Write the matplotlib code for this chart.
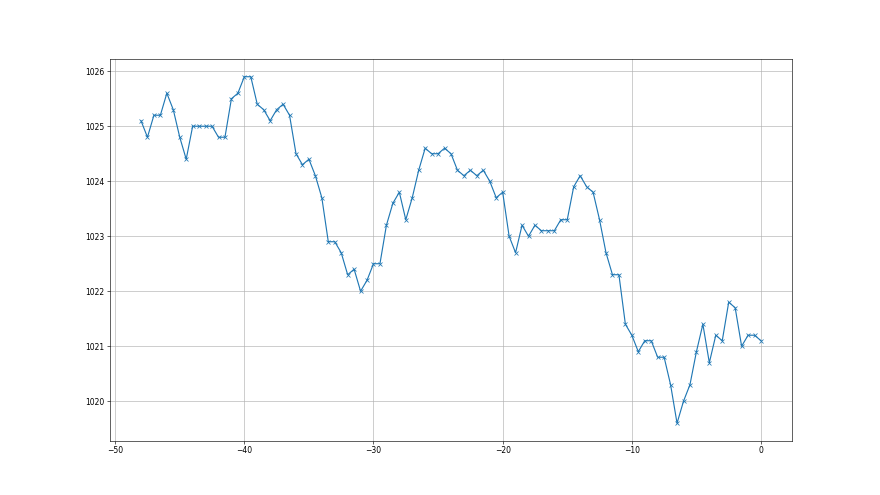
import numpy as np
import matplotlib
matplotlib.use("Agg")
import matplotlib.pyplot as plt

hours = np.arange(-48, 0.01, 0.5)
pressure = [
    1025.1, 1024.8, 1025.2, 1025.2, 1025.6, 1025.3, 1024.8, 1024.4, 1025.0, 1025.0,
    1025.0, 1025.0, 1024.8, 1024.8, 1025.5, 1025.6, 1025.9, 1025.9, 1025.4, 1025.3,
    1025.1, 1025.3, 1025.4, 1025.2, 1024.5, 1024.3, 1024.4, 1024.1, 1023.7, 1022.9,
    1022.9, 1022.7, 1022.3, 1022.4, 1022.0, 1022.2, 1022.5, 1022.5, 1023.2, 1023.6,
    1023.8, 1023.3, 1023.7, 1024.2, 1024.6, 1024.5, 1024.5, 1024.6, 1024.5, 1024.2,
    1024.1, 1024.2, 1024.1, 1024.2, 1024.0, 1023.7, 1023.8, 1023.0, 1022.7, 1023.2,
    1023.0, 1023.2, 1023.1, 1023.1, 1023.1, 1023.3, 1023.3, 1023.9, 1024.1, 1023.9,
    1023.8, 1023.3, 1022.7, 1022.3, 1022.3, 1021.4, 1021.2, 1020.9, 1021.1, 1021.1,
    1020.8, 1020.8, 1020.3, 1019.6, 1020.0, 1020.3, 1020.9, 1021.4, 1020.7, 1021.2,
    1021.1, 1021.8, 1021.7, 1021.0, 1021.2, 1021.2, 1021.1,
]

fig, ax = plt.subplots(figsize=(16, 9), dpi=55)
ax.plot(hours, pressure, marker="x", color="#1f77b4", linewidth=1.5, markersize=6)
ax.grid(True)
fig.savefig("out.png", dpi=55)
